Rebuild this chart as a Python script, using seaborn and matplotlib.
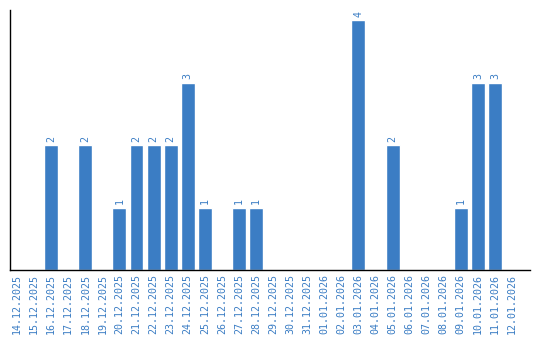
import matplotlib
matplotlib.use("Agg")
import matplotlib.pyplot as plt
import seaborn as sns
import pandas as pd

dates = ["14.12.2025", "15.12.2025", "16.12.2025", "17.12.2025", "18.12.2025",
         "19.12.2025", "20.12.2025", "21.12.2025", "22.12.2025", "23.12.2025",
         "24.12.2025", "25.12.2025", "26.12.2025", "27.12.2025", "28.12.2025",
         "29.12.2025", "30.12.2025", "31.12.2025", "01.01.2026", "02.01.2026",
         "03.01.2026", "04.01.2026", "05.01.2026", "06.01.2026", "07.01.2026",
         "08.01.2026", "09.01.2026", "10.01.2026", "11.01.2026", "12.01.2026"]
counts = [0, 0, 2, 0, 2, 0, 1, 2, 2, 2, 3, 1, 0, 1, 1,
          0, 0, 0, 0, 0, 4, 0, 2, 0, 0, 0, 1, 3, 3, 0]

df = pd.DataFrame({"date": dates, "count": counts})

sns.set_style("white")
plt.rcParams['font.family'] = ['DejaVu Sans Mono', 'DejaVu Sans']

color = "#3b7dc4"
fig = plt.figure(figsize=(5.4, 3.4), dpi=100)
ax = fig.add_axes([10/540, 70/340, 520/540, 260/340])
sns.barplot(data=df, x="date", y="count", color=color, width=0.82,
            saturation=1, ax=ax)

for i, v in enumerate(counts):
    if v > 0:
        ax.text(i, v + 0.05, str(v), rotation=90, ha="center", va="bottom",
                fontsize=7.2, color=color)

ax.set_xlim(-0.41, 30.05)
ax.set_ylim(0, 4.16)
ax.set_xlabel("")
ax.set_ylabel("")
ax.set_yticks([])
ax.tick_params(axis="x", length=0, pad=3, labelsize=7.2, labelcolor=color)
plt.setp(ax.get_xticklabels(), rotation=90)
for s in ["top", "right"]:
    ax.spines[s].set_visible(False)
for s in ["left", "bottom"]:
    ax.spines[s].set_color("black")
    ax.spines[s].set_linewidth(1)

fig.savefig("out.png", dpi=100)
